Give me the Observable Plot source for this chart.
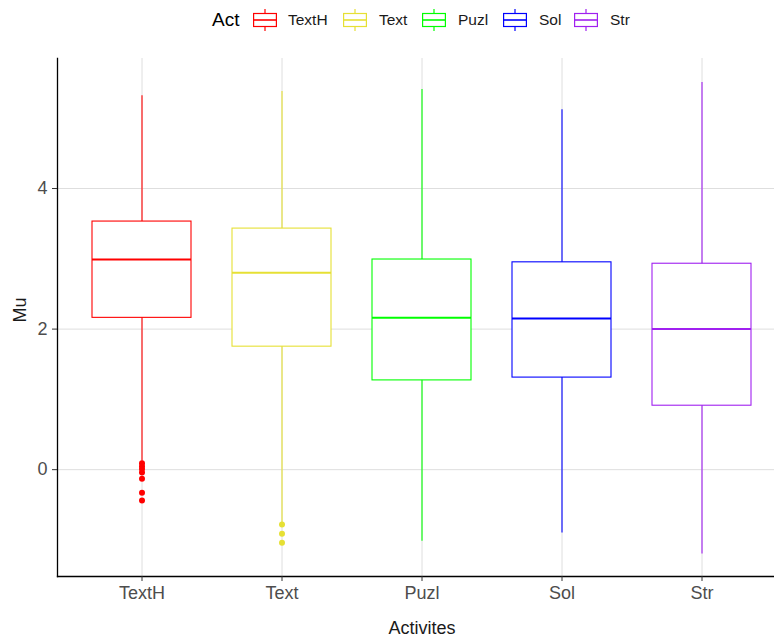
<!DOCTYPE html>
<html>
<head>
<meta charset="utf-8">
<script src="https://cdn.jsdelivr.net/npm/d3@7"></script>
<script src="https://cdn.jsdelivr.net/npm/@observablehq/plot@0.6"></script>
<style>
  html, body { margin: 0; padding: 0; background: #fff; }
  body { width: 774px; height: 637px; overflow: hidden; font-family: "Liberation Sans", Arial, sans-serif; }
  #legend { position: relative; height: 40px; width: 774px; }
  #legend .item { position: absolute; top: 0; height: 40px; display: flex; align-items: center; }
  #legend .title { font-size: 19px; color: #000; }
  #legend .lab { font-size: 15.5px; color: #1a1a1a; }
</style>
</head>
<body>
<div id="legend"></div>
<div id="chart"></div>
<script>
// ---- data ----
const cats    = ["TextH", "Text", "Puzl", "Sol", "Str"];
const colors  = ["#FF0000", "#E6E034", "#00FF00", "#0000FF", "#A020F0"];
const lower   = [0.12, -0.75, -1.02, -0.90, -1.20];
const q1      = [2.16, 1.75, 1.27, 1.31, 0.91];
const median  = [2.99, 2.80, 2.16, 2.15, 2.00];
const q3      = [3.53, 3.43, 2.99, 2.95, 2.93];
const upper   = [5.32, 5.38, 5.41, 5.12, 5.51];
const outlierCat = ["TextH","TextH","TextH","TextH","TextH","TextH","TextH","Text","Text","Text"];
const outlierVal = [0.09, 0.05, 0.01, -0.04, -0.13, -0.33, -0.44, -0.78, -0.91, -1.04];
const yTicks = [0, 2, 4];

// ---- tables built from arrays ----
const boxes = cats.map((c, i) => ({act: c, lo: lower[i], q1: q1[i], med: median[i], q3: q3[i], hi: upper[i]}));
const outliers = outlierCat.map((c, i) => ({act: c, v: outlierVal[i]}));

// ---- legend ----
const legend = document.getElementById("legend");
const legendPos = [{x: 253, lx: 288}, {x: 343, lx: 379}, {x: 422, lx: 458}, {x: 503, lx: 539}, {x: 574, lx: 610}];
const t = document.createElement("div");
t.className = "item title"; t.style.left = "212px"; t.textContent = "Act";
legend.appendChild(t);
cats.forEach((c, i) => {
  const k = document.createElement("div");
  k.className = "item"; k.style.left = legendPos[i].x + "px";
  k.innerHTML = `<svg width="24" height="40"><g stroke="${colors[i]}" fill="none" stroke-width="1.2">
    <line x1="12" x2="12" y1="9" y2="31"/>
    <rect x="0.6" y="13.5" width="22.8" height="13" fill="#fff"/>
    <line x1="0.6" x2="23.4" y1="20" y2="20" stroke-width="1.6"/></g></svg>`;
  legend.appendChild(k);
  const l = document.createElement("div");
  l.className = "item lab"; l.style.left = legendPos[i].lx + "px"; l.textContent = c;
  legend.appendChild(l);
});

// ---- chart ----
const W = 774, H = 597;
const chart = Plot.plot({
  width: W, height: H,
  marginLeft: 57, marginRight: 0, marginTop: 18, marginBottom: 61,
  style: {fontFamily: "'Liberation Sans', Arial, sans-serif", background: "#fff", overflow: "visible"},
  x: {type: "band", domain: cats, range: [57, 787], paddingInner: 0.29, paddingOuter: 0.245, align: 0.5},
  y: {domain: [-1.52, 5.85]},
  color: {domain: cats, range: colors},
  marks: [
    Plot.gridY(yTicks, {stroke: "#DEDEDE", strokeOpacity: 1, strokeWidth: 1}),
    Plot.gridX(cats, {stroke: "#DEDEDE", strokeOpacity: 1, strokeWidth: 1}),
    Plot.ruleX(boxes, {x: "act", y1: "lo", y2: "hi", stroke: "act", strokeWidth: 1.1}),
    Plot.barY(boxes, {x: "act", y1: "q1", y2: "q3", fill: "#fff", stroke: "act", strokeWidth: 1.1}),
    Plot.tickY(boxes, {x: "act", y: "med", stroke: "act", strokeWidth: 2}),
    Plot.dot(outliers, {x: "act", y: "v", fill: "act", r: 3, stroke: null}),
    Plot.frame({anchor: "left", stroke: "#000", strokeWidth: 1.3}),
    Plot.frame({anchor: "bottom", stroke: "#000", strokeWidth: 1.3}),
    Plot.axisY(yTicks, {tickSize: 5, tickPadding: 5, tickFormat: d3.format("d"), fontSize: 18, color: "#4D4D4D", stroke: "#333", label: null}),
    Plot.axisX(cats, {tickSize: 5, tickPadding: 5, fontSize: 18, color: "#4D4D4D", stroke: "#333", label: null}),
    Plot.text(["Mu"], {frameAnchor: "left", dx: -37, dy: 5, rotate: -90, fontSize: 18, fill: "#1a1a1a"}),
    Plot.text(["Activites"], {frameAnchor: "bottom", dx: 6, dy: 57, fontSize: 18, fill: "#1a1a1a"})
  ]
});
document.getElementById("chart").appendChild(chart);
</script>
</body>
</html>
